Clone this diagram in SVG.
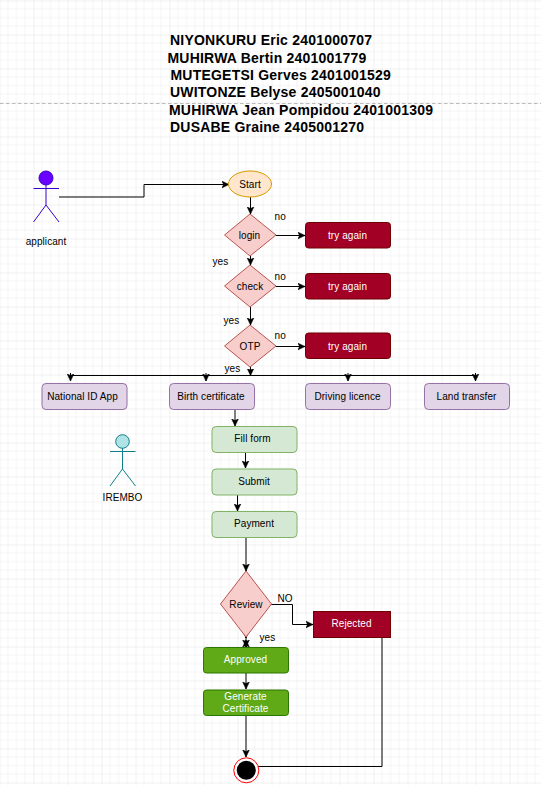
<svg xmlns="http://www.w3.org/2000/svg" width="541" height="785" viewBox="0 0 541 785">
<style>
text{font-family:"Liberation Sans",Arial,sans-serif;font-size:10px;letter-spacing:.08px;fill:#000}
.c{text-anchor:middle}
.w{fill:#fff}
.t{font-size:14px;font-weight:bold;letter-spacing:.21px}
.n{fill:none;stroke:#000;stroke-width:1;marker-end:url(#a)}
.p{fill:none;stroke:#000;stroke-width:1}
.d{fill:#f8cecc;stroke:#b85450}
.r{fill:#a20025;stroke:#6f0000}
.v{fill:#e1d5e7;stroke:#9673a6}
.g{fill:#d5e8d4;stroke:#82b366}
.o{fill:#60a917;stroke:#2d7600}
</style>
<defs>
<marker id="a" markerUnits="userSpaceOnUse" markerWidth="8" markerHeight="8" refX="7" refY="4" orient="auto"><path d="M0 .7L7 4L0 7.3L1.6 4Z" fill="#000" stroke="#000" stroke-width=".6"/></marker>
<pattern id="grid" width="34" height="34" patternUnits="userSpaceOnUse" x="-.5" y="0.5">
<path d="M8.5 0V34M17 0V34M25.5 0V34M0 8.5H34M0 17H34M0 25.5H34" stroke="#f4f4f4" fill="none"/>
<path d="M0 0V34M0 0H34" stroke="#e2e2e2" fill="none"/>
</pattern>
</defs>
<rect width="541" height="785" fill="#fff"/>
<rect width="541" height="785" fill="url(#grid)"/>
<path d="M0 103.500H541" stroke="#bbb" stroke-dasharray="3.500 2.500"/>
<g id="title">
<text class="t" x="170" y="45">NIYONKURU Eric 2401000707</text>
<text class="t" x="167.500" y="63">MUHIRWA Bertin 2401001779</text>
<text class="t" x="170.500" y="80">MUTEGETSI Gerves 2401001529</text>
<text class="t" x="170" y="97">UWITONZE Belyse 2405001040</text>
<text class="t" x="169" y="115">MUHIRWA Jean Pompidou 2401001309</text>
<text class="t" x="170" y="132">DUSABE Graine 2405001270</text>
</g>
<g id="connectors">
<path class="n" d="M59 197H144V184.500H229"/>
<path class="n" d="M250.500 197V214"/>
<path class="n" d="M276 235.500H305"/>
<path class="n" d="M250.500 256V265"/>
<path class="n" d="M276 286.500H305"/>
<path class="n" d="M250.500 307V325"/>
<path class="n" d="M276 346.500H305"/>
<path class="n" d="M250.500 367V375.500"/>
<path class="p" d="M70.500 375.500H475.500"/>
<path class="n" d="M70.500 373V381"/>
<path class="n" d="M206 373V381"/>
<path class="n" d="M348 373V381"/>
<path class="n" d="M475.500 373V381"/>
<path class="n" d="M235 410V426"/>
<path class="n" d="M245.500 452V468"/>
<path class="n" d="M237.500 495V511"/>
<path class="n" d="M246 537V571"/>
<path class="n" d="M271 604.500H292.500V624.500H313"/>
<path class="n" d="M246 630V638"/>
<path class="n" d="M246 637V647"/>
<path class="n" d="M246 647V640"/>
<path class="n" d="M246 673V689"/>
<path class="n" d="M246 715V757"/>
<path class="p" d="M382 638V766.500H258"/>
</g>
<g id="applicant"><circle cx="46" cy="178" r="7" fill="#6a00ff" stroke="#3700cc"/><path d="M46 185V205M33.500 188.500H59M46 205L33.500 222M46 205L59 222" fill="none" stroke="#3700cc"/><text class="c" x="46" y="245">applicant</text></g>
<g id="irembo"><circle cx="122.500" cy="441.500" r="6.800" fill="#b0e3e6" stroke="#0e8088"/><path d="M122.500 448V469M110 451.500H135.500M122.500 469L110 486M122.500 469L135.500 486" fill="none" stroke="#0e8088"/><text class="c" x="122.500" y="501">IREMBO</text></g>
<g id="start"><ellipse cx="250" cy="184" rx="21.500" ry="13" fill="#ffe6cc" stroke="#d79b00"/><text class="c" x="250" y="187.500">Start</text></g>
<g id="login"><path class="d" d="M250 214L276 235L250 256L224.500 235Z"/><text class="c" x="249.500" y="238.500">login</text></g>
<g id="check"><path class="d" d="M250 265L276 286L250 307L224.500 286Z"/><text class="c" x="250" y="289.500">check</text></g>
<g id="otp"><path class="d" d="M250 325L276 346L250 367L224.500 346Z"/><text class="c" x="250" y="349.500">OTP</text></g>
<g id="try1"><rect class="r" x="305.500" y="222.500" width="85" height="25.500" rx="3"/><text class="c w" x="347.500" y="238.500">try again</text></g>
<g id="try2"><rect class="r" x="305.500" y="273.500" width="85" height="25.500" rx="3"/><text class="c w" x="347.500" y="289.500">try again</text></g>
<g id="try3"><rect class="r" x="305.500" y="333" width="85" height="25.500" rx="3"/><text class="c w" x="347.500" y="349.500">try again</text></g>
<g id="national"><rect class="v" x="42" y="383.500" width="85" height="26" rx="4"/><text class="c" x="82.500" y="400">National ID App</text></g>
<g id="birth"><rect class="v" x="169.500" y="383.500" width="85" height="26" rx="4"/><text class="c" x="211" y="400">Birth certificate</text></g>
<g id="driving"><rect class="v" x="305.500" y="383.500" width="85" height="26" rx="4"/><text class="c" x="347.500" y="400">Driving licence</text></g>
<g id="land"><rect class="v" x="424.500" y="383.500" width="85" height="26" rx="4"/><text class="c" x="466.500" y="400">Land transfer</text></g>
<g id="fill"><rect class="g" x="212" y="426.500" width="85" height="26" rx="4"/><text class="c" x="252.500" y="442">Fill form</text></g>
<g id="submit"><rect class="g" x="212" y="469" width="85" height="26" rx="4"/><text class="c" x="254" y="485">Submit</text></g>
<g id="payment"><rect class="g" x="212" y="511.500" width="85" height="26" rx="4"/><text class="c" x="254" y="527">Payment</text></g>
<g id="review"><path class="d" d="M246 571L271.500 604L246 637L220.500 604Z"/><text class="c" x="246" y="608">Review</text></g>
<g id="rejected"><rect class="r" x="313.500" y="611.500" width="77" height="26"/><text class="c w" x="351.500" y="627">Rejected</text></g>
<g id="approved"><rect class="o" x="203.500" y="647.500" width="85" height="25.500" rx="3"/><text class="c w" x="245.500" y="663">Approved</text></g>
<g id="generate"><rect class="o" x="203.500" y="690" width="85" height="25.500" rx="3"/><text class="c w" x="245.500" y="700">Generate</text><text class="c w" x="245.500" y="712">Certificate</text></g>
<g id="end"><circle cx="246.300" cy="770.300" r="12.500" fill="#fff" stroke="#f00"/><circle cx="246.300" cy="770.300" r="9.500" fill="#000"/></g>
<g id="labels">
<text x="274.500" y="219.500">no</text>
<text x="274.500" y="279.500">no</text>
<text x="274.500" y="338.500">no</text>
<text x="212.500" y="264.500">yes</text>
<text x="223.500" y="323.500">yes</text>
<text x="224.500" y="371.500">yes</text>
<text x="277.500" y="601.500">NO</text>
<text x="259.500" y="640.500">yes</text>
</g>
</svg>
